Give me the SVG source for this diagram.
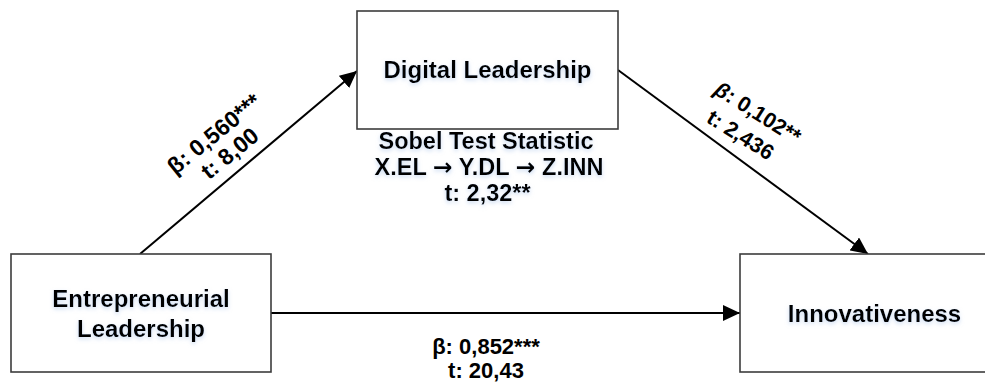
<svg xmlns="http://www.w3.org/2000/svg" width="985" height="383" viewBox="0 0 985 383">
  <defs>
    <marker id="arrow" markerUnits="userSpaceOnUse" markerWidth="18" markerHeight="16" refX="17" refY="8" orient="auto">
      <path d="M0,0 L17,8 L0,16 Z" fill="#000"/>
    </marker>
    <filter id="glow" x="-15%" y="-40%" width="130%" height="180%">
      <feGaussianBlur in="SourceAlpha" stdDeviation="2.2" result="b"/>
      <feOffset in="b" dy="1.5" result="o"/>
      <feFlood flood-color="#9fbce6" flood-opacity="0.55"/>
      <feComposite in2="o" operator="in"/>
      <feMerge><feMergeNode/><feMergeNode in="SourceGraphic"/></feMerge>
    </filter>
  </defs>
  <style>
    .box { fill: #ffffff; stroke: #3c3c3c; stroke-width: 1.6; }
    .node { font-family: "Liberation Sans", Arial, sans-serif; font-weight: bold; font-size: 24px; fill: #000; text-anchor: middle; }
    .lbl { font-family: "Liberation Sans", Arial, sans-serif; font-weight: bold; fill: #000; text-anchor: middle; }
    .arr { font-family: "DejaVu Sans", sans-serif; font-weight: bold; }
    .edge { stroke: #000; stroke-width: 2; fill: none; marker-end: url(#arrow); }
  </style>
  <rect width="985" height="383" fill="#ffffff"/>

  <g id="connectors">
    <line class="edge" x1="140" y1="254" x2="357" y2="71"/>
    <line class="edge" x1="618" y1="70" x2="868" y2="254"/>
    <line class="edge" x1="271" y1="313" x2="740" y2="313"/>
  </g>

  <g id="node-digital-leadership">
    <rect class="box" x="357" y="11" width="261" height="118"/>
    <text class="node" x="487.5" y="78" filter="url(#glow)">Digital Leadership</text>
  </g>

  <g id="node-entrepreneurial-leadership">
    <rect class="box" x="11" y="254" width="260" height="118"/>
    <text class="node" x="141" y="307" filter="url(#glow)">Entrepreneurial</text>
    <text class="node" x="141" y="337" filter="url(#glow)">Leadership</text>
  </g>

  <g id="node-innovativeness">
    <rect class="box" x="740" y="254" width="270" height="118"/>
    <text class="node" x="874.5" y="322" filter="url(#glow)">Innovativeness</text>
  </g>

  <g id="sobel-label" filter="url(#glow)">
    <text class="lbl" x="486" y="149" font-size="23.5">Sobel Test Statistic</text>
    <text class="lbl" x="489" y="175" font-size="23.5">X.EL <tspan class="arr">→</tspan> Y.DL <tspan class="arr">→</tspan> Z.INN</text>
    <text class="lbl" x="487.5" y="201" font-size="23.5">t: 2,32**</text>
  </g>

  <g id="label-el-dl" transform="translate(219,140) rotate(-39)">
    <text class="lbl" x="0" y="0" font-size="23">β: 0,560***</text>
    <text class="lbl" x="0" y="25" font-size="23">t: 8,00</text>
  </g>

  <g id="label-dl-inn" transform="translate(754,119) rotate(32)">
    <text class="lbl" x="0" y="0" font-size="21.5"><tspan font-style="italic">β</tspan>: 0,102**</text>
    <text class="lbl" x="-3" y="28" font-size="21.5">t: 2,436</text>
  </g>

  <g id="label-el-inn">
    <text class="lbl" x="486" y="354" font-size="22">β: 0,852***</text>
    <text class="lbl" x="486" y="378" font-size="22">t: 20,43</text>
  </g>
</svg>
